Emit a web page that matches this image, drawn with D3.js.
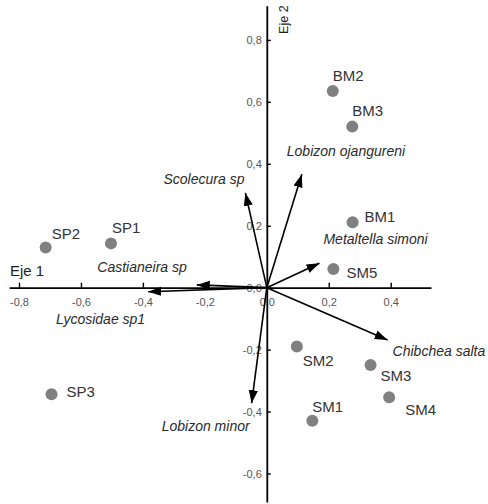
<!DOCTYPE html>
<html>
<head>
<meta charset="utf-8">
<script src="https://cdn.jsdelivr.net/npm/d3@7"></script>
<style>
  html, body { margin: 0; padding: 0; background: #fff; }
  svg { display: block; }
  text { font-family: "Liberation Sans", Arial, sans-serif; }
</style>
</head>
<body>
<svg id="chart" width="488" height="504"></svg>
<script>
// ---- Data ----
const siteNames = ["SP1","SP2","SP3","BM1","BM2","BM3","SM1","SM2","SM3","SM4","SM5"];
const siteAxis1 = [-0.503,-0.714,-0.695, 0.277, 0.213, 0.276, 0.147, 0.097, 0.335, 0.395, 0.215];
const siteAxis2 = [ 0.143, 0.130,-0.344, 0.211, 0.635, 0.520,-0.430,-0.190,-0.250,-0.354, 0.060];

const speciesNames = ["Scolecura sp","Lobizon ojangureni","Metaltella simoni","Castianeira sp","Lycosidae sp1","Chibchea salta","Lobizon minor"];
const speciesAxis1 = [-0.069, 0.113, 0.170,-0.226,-0.383, 0.390,-0.049];
const speciesAxis2 = [ 0.306, 0.366, 0.079, 0.009,-0.013,-0.169,-0.373];

const xTickValues = [-0.8,-0.6,-0.4,-0.2,0,0.2,0.4];
const xTickLabels = ["-0,8","-0,6","-0,4","-0,2","0,0","0,2","0,4"];
const yTickValues = [0.8,0.6,0.4,0.2,0,-0.2,-0.4,-0.6];
const yTickLabels = ["0,8","0,6","0,4","0,2","0,0","-0,2","-0,4","-0,6"];
const axisTitles = ["Eje 1","Eje 2"];

// ---- Layout (label offsets in px, not data) ----
const siteLabelOffset = {
  SP1:[1,-10], SP2:[6,-8], SP3:[15,3], BM1:[12,0], BM2:[0,-10], BM3:[0,-11],
  SM1:[0,-9], SM2:[6,19], SM3:[10,16], SM4:[16,18], SM5:[13,9]
};
const speciesLabelOffset = {
  "Scolecura sp":[-1,-9,"end"], "Lobizon ojangureni":[-15,-18,"start"],
  "Metaltella simoni":[4,-19,"start"], "Castianeira sp":[-10,-13,"end"],
  "Lycosidae sp1":[-3,32,"end"], "Chibchea salta":[5,16,"start"],
  "Lobizon minor":[-2,28,"end"]
};

const svg = d3.select("#chart");

const x = d3.scaleLinear().domain([-0.8, 0.4]).range([19, 390.7]);
const y = d3.scaleLinear().domain([0.8, -0.6]).range([39.9, 473.5]);

// Extended axis scales (same mapping, longer lines)
const xAxisScale = d3.scaleLinear().domain([-0.832, 0.53]).range([x(-0.832), x(0.53)]);
const yAxisScale = d3.scaleLinear().domain([0.91, -0.692]).range([y(0.91), y(-0.692)]);

// X axis
const gx = svg.append("g").attr("transform", `translate(0,${y(0)})`)
  .call(d3.axisBottom(xAxisScale)
    .tickValues(xTickValues)
    .tickFormat((d,i) => xTickLabels[i])
    .tickSizeInner(-5).tickSizeOuter(0).tickPadding(11));
gx.select(".domain").attr("stroke", "#000").attr("stroke-width", 1.8);
gx.selectAll(".tick line").attr("stroke", "#000").attr("stroke-width", 1.4);
gx.selectAll(".tick text").attr("fill", "#555").attr("font-size", 11)
  .attr("font-family", "Liberation Sans, Arial, sans-serif");

// Y axis
const gy = svg.append("g").attr("transform", `translate(${x(0)},0)`)
  .call(d3.axisLeft(yAxisScale)
    .tickValues(yTickValues)
    .tickFormat((d,i) => yTickLabels[i])
    .tickSizeInner(-4).tickSizeOuter(0).tickPadding(5));
gy.select(".domain").attr("stroke", "#000").attr("stroke-width", 1.8);
gy.selectAll(".tick line").attr("stroke", "#000").attr("stroke-width", 1.4);
gy.selectAll(".tick text").attr("fill", "#555").attr("font-size", 11)
  .attr("font-family", "Liberation Sans, Arial, sans-serif");

// Axis titles
svg.append("text").attr("x", x(-0.8) - 9).attr("y", y(0) - 12)
  .attr("font-size", 15).attr("fill", "#222").text(axisTitles[0]);
svg.append("text")
  .attr("transform", `translate(${x(0) + 21},${y(0.8) - 6}) rotate(-90)`)
  .attr("font-size", 12.5).attr("fill", "#222").text(axisTitles[1]);

// Arrow marker
svg.append("defs").append("marker")
  .attr("id", "arrow").attr("markerUnits", "userSpaceOnUse")
  .attr("viewBox", "0 -5 14 10").attr("refX", 13).attr("refY", 0)
  .attr("markerWidth", 14).attr("markerHeight", 10).attr("orient", "auto")
  .append("path").attr("d", "M0,-4.6L13,0L0,4.6Z").attr("fill", "#000");

const species = speciesNames.map((n,i) => ({name:n, a1:speciesAxis1[i], a2:speciesAxis2[i]}));
svg.append("g").selectAll("line").data(species).join("line")
  .attr("x1", x(0)).attr("y1", y(0))
  .attr("x2", d => x(d.a1)).attr("y2", d => y(d.a2))
  .attr("stroke", "#000").attr("stroke-width", 1.6)
  .attr("marker-end", "url(#arrow)");

svg.append("g").selectAll("text").data(species).join("text")
  .attr("x", d => x(d.a1) + speciesLabelOffset[d.name][0])
  .attr("y", d => y(d.a2) + speciesLabelOffset[d.name][1])
  .attr("text-anchor", d => speciesLabelOffset[d.name][2])
  .attr("font-size", 14).attr("font-style", "italic").attr("fill", "#2a2a2a")
  .text(d => d.name);

// Sites
const sites = siteNames.map((n,i) => ({name:n, a1:siteAxis1[i], a2:siteAxis2[i]}));
svg.append("g").selectAll("circle").data(sites).join("circle")
  .attr("cx", d => x(d.a1)).attr("cy", d => y(d.a2)).attr("r", 6)
  .attr("fill", "#808080");
svg.append("g").selectAll("text").data(sites).join("text")
  .attr("x", d => x(d.a1) + siteLabelOffset[d.name][0])
  .attr("y", d => y(d.a2) + siteLabelOffset[d.name][1])
  .attr("font-size", 15).attr("fill", "#333")
  .text(d => d.name);
</script>
</body>
</html>
